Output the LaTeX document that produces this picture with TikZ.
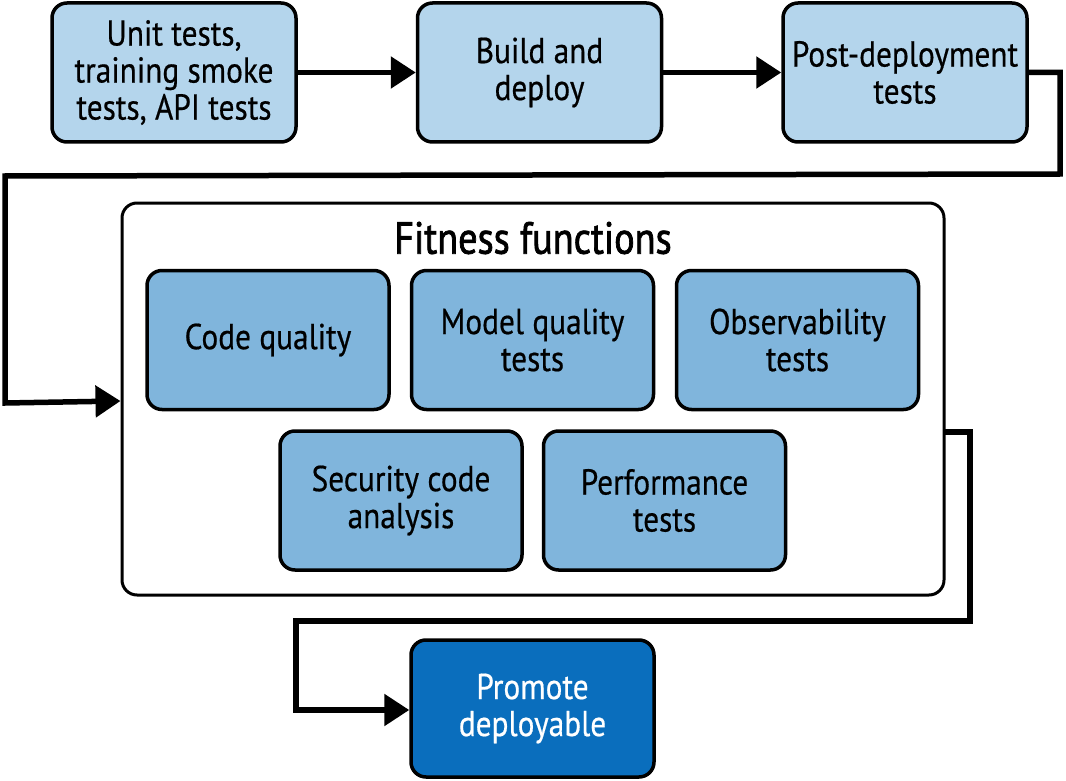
\documentclass[tikz,border=0pt]{standalone}
\usepackage{fontspec}
\setmainfont[FakeStretch=0.87,FakeBold=0.5]{PT Sans}
\newfontfamily\titlefont[FakeStretch=0.85,FakeBold=1.6]{PT Sans}
\usetikzlibrary{arrows.meta}
\definecolor{lightbox}{HTML}{B4D5EC}
\definecolor{midbox}{HTML}{80B5DC}
\definecolor{darkbox}{HTML}{0A6EBD}
\tikzset{
  base/.style={draw=black, line width=3.5pt, rounded corners=15pt, inner sep=0pt,
    align=center, font=\fontsize{36}{37}\selectfont},
  topbox/.style={base, fill=lightbox, minimum width=244pt, minimum height=139pt},
  fitbox/.style={base, fill=midbox, minimum width=242pt, minimum height=139pt},
  promobox/.style={base, fill=darkbox, text=white, minimum width=243pt, minimum height=137pt},
  group/.style={draw=black, line width=3pt, rounded corners=15pt, fill=white, inner sep=0pt},
  conn/.style={line width=5.5pt, line join=miter, -{Triangle[length=25pt,width=31pt]}},
}
\begin{document}
\begin{tikzpicture}[x=1pt,y=-1pt]
\useasboundingbox (0,0) rectangle (1066,781);
% top row
\node[topbox] (unit) at (174,72.5) {Unit tests,\\training smoke\\tests, API tests};
\node[topbox] (build) at (539.5,72.5) {Build and\\deploy};
\node[topbox] (post) at (905,72.5) {Post-deployment\\tests};
% fitness group
\node[group, minimum width=822pt, minimum height=392pt] (fit) at (533,399) {};
\node[font=\titlefont\fontsize{45}{48}\selectfont, inner sep=0pt] (fittitle) at (533,238) {Fitness functions};
\node[fitbox] (code) at (268,340) {Code quality};
\node[fitbox] (model) at (532.5,340) {Model quality\\tests};
\node[fitbox] (obs) at (797.5,340) {Observability\\tests};
\node[fitbox] (sec) at (401,500.5) {Security code\\analysis};
\node[fitbox] (perf) at (664.5,500.5) {Performance\\tests};
% promote
\node[promobox] (prom) at (532.5,708.5) {Promote\\deployable};
% connectors
\draw[conn] (unit.east) -- (build.west);
\draw[conn] (build.east) -- (post.west);
\coordinate (c1) at (1060,72.5);
\coordinate (c2) at (1060,174);
\coordinate (c3) at (5,176);
\coordinate (c4) at (5,403);
\draw[conn] (post.east) -- (c1) -- (c2) -- (c3) -- (c4) -- (fit.west |- 0,401);
\coordinate (d0) at (944,432);
\coordinate (d1) at (970,432);
\coordinate (d2) at (970,621);
\coordinate (d3) at (296,621);
\coordinate (d4) at (296,710);
\draw[conn] (d0) -- (d1) -- (d2) -- (d3) -- (d4) -- (prom.west |- 0,710);
\end{tikzpicture}
\end{document}
